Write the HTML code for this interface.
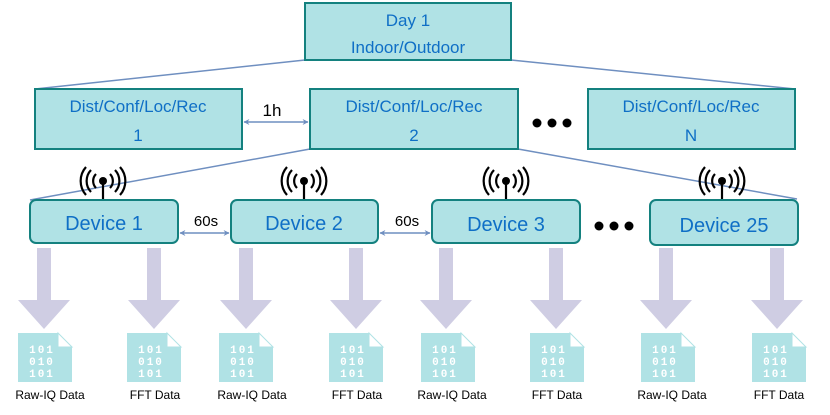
<!DOCTYPE html>
<html><head><meta charset="utf-8"><style>
html,body{margin:0;padding:0;background:#fff;width:830px;height:415px;overflow:hidden}
svg{display:block;font-family:"Liberation Sans",sans-serif}
.bt{fill:#0f6fc6;font-size:17px;text-anchor:middle}
.dt{fill:#0f6fc6;font-size:20px;text-anchor:middle}
.lb{fill:#000;font-size:12px;text-anchor:middle}
.bn{fill:#fff;font-size:11px;font-weight:bold;font-family:"Liberation Mono",monospace;letter-spacing:2px;text-anchor:middle}
</style></head><body>
<svg width="830" height="415" viewBox="0 0 830 415">
<defs>
<marker id="ah" viewBox="0 0 10 10" refX="9" refY="5" markerWidth="4" markerHeight="4" orient="auto-start-reverse"><path d="M0,0 L10,5 L0,10 L3,5z" fill="#6f8fc0"/></marker>
<g id="arr"><rect x="-7" y="248" width="14" height="53" fill="#cfcde3"/><path d="M-26,300 L26,300 L0,329z" fill="#cfcde3"/></g>
<g id="file"><path d="M-27,333 L13,333 L27,347 L27,382 L-27,382z" fill="#b0e2e5"/><path d="M13,333 L27,347 L13,347z" fill="#fff" stroke="#b0e2e5" stroke-width="1"/>
<text class="bn" x="-3" y="353">101</text><text class="bn" x="-3" y="365">010</text><text class="bn" x="-3" y="377">101</text></g>
<g id="ant" fill="none" stroke="#000" stroke-width="2.2"><line x1="0" y1="180" x2="0" y2="199"/><circle cx="0" cy="181" r="4" fill="#000" stroke="none"/>
<path d="M-7,174 A10,10 0 0 0 -7,188"/><path d="M7,174 A10,10 0 0 1 7,188"/>
<path d="M-12,170 A16,16 0 0 0 -12,192"/><path d="M12,170 A16,16 0 0 1 12,192"/>
<path d="M-17,167 A21,21 0 0 0 -17,195"/><path d="M17,167 A21,21 0 0 1 17,195"/></g>
</defs>
<g stroke="#6f8fc0" stroke-width="1.5">
<line x1="305" y1="60" x2="35" y2="89"/><line x1="511" y1="60" x2="795" y2="89"/>
<line x1="310" y1="149" x2="30" y2="200"/><line x1="518" y1="149" x2="797" y2="199"/>
<line x1="244" y1="122" x2="308" y2="122" marker-start="url(#ah)" marker-end="url(#ah)"/>
<line x1="180" y1="233" x2="229" y2="233" marker-start="url(#ah)" marker-end="url(#ah)"/>
<line x1="380" y1="233" x2="430" y2="233" marker-start="url(#ah)" marker-end="url(#ah)"/>
</g>
<g fill="#b0e2e5" stroke="#14817f" stroke-width="2">
<rect x="305" y="3" width="206" height="57"/>
<rect x="35" y="89" width="207" height="60"/>
<rect x="310" y="89" width="208" height="60"/>
<rect x="588" y="89" width="207" height="60"/>
<rect x="30" y="200" width="148" height="43" rx="6"/>
<rect x="231" y="200" width="147" height="43" rx="6"/>
<rect x="432" y="200" width="148" height="43" rx="6"/>
<rect x="650" y="200" width="148" height="45" rx="6"/>
</g>
<text class="bt" x="408" y="26">Day 1</text><text class="bt" x="408" y="53">Indoor/Outdoor</text>
<text class="bt" x="138" y="112">Dist/Conf/Loc/Rec</text><text class="bt" x="138" y="141">1</text>
<text class="bt" x="414" y="112">Dist/Conf/Loc/Rec</text><text class="bt" x="414" y="141">2</text>
<text class="bt" x="691" y="112">Dist/Conf/Loc/Rec</text><text class="bt" x="691" y="141">N</text>
<text x="272" y="116" font-size="17" text-anchor="middle">1h</text>
<text x="206" y="226" font-size="15" text-anchor="middle">60s</text>
<text x="407" y="226" font-size="15" text-anchor="middle">60s</text>
<g fill="#000"><circle cx="537" cy="123" r="4.5"/><circle cx="552" cy="123" r="4.5"/><circle cx="567" cy="123" r="4.5"/>
<circle cx="599" cy="226" r="4.5"/><circle cx="614" cy="226" r="4.5"/><circle cx="629" cy="226" r="4.5"/></g>
<text class="dt" x="104" y="230">Device 1</text>
<text class="dt" x="304" y="230">Device 2</text>
<text class="dt" x="506" y="231">Device 3</text>
<text class="dt" x="724" y="232">Device 25</text>
<use href="#ant" x="103"/><use href="#ant" x="304"/><use href="#ant" x="506"/><use href="#ant" x="722"/>
<use href="#arr" x="44"/><use href="#arr" x="154"/><use href="#arr" x="246"/><use href="#arr" x="356"/>
<use href="#arr" x="446"/><use href="#arr" x="556"/><use href="#arr" x="666"/><use href="#arr" x="777"/>
<use href="#file" x="45"/><use href="#file" x="154"/><use href="#file" x="246"/><use href="#file" x="356"/>
<use href="#file" x="448"/><use href="#file" x="557"/><use href="#file" x="668"/><use href="#file" x="779"/>
<text class="lb" x="50" y="399">Raw-IQ Data</text><text class="lb" x="155" y="399">FFT Data</text>
<text class="lb" x="252" y="399">Raw-IQ Data</text><text class="lb" x="357" y="399">FFT Data</text>
<text class="lb" x="452" y="399">Raw-IQ Data</text><text class="lb" x="557" y="399">FFT Data</text>
<text class="lb" x="672" y="399">Raw-IQ Data</text><text class="lb" x="779" y="399">FFT Data</text>
</svg>
</body></html>
